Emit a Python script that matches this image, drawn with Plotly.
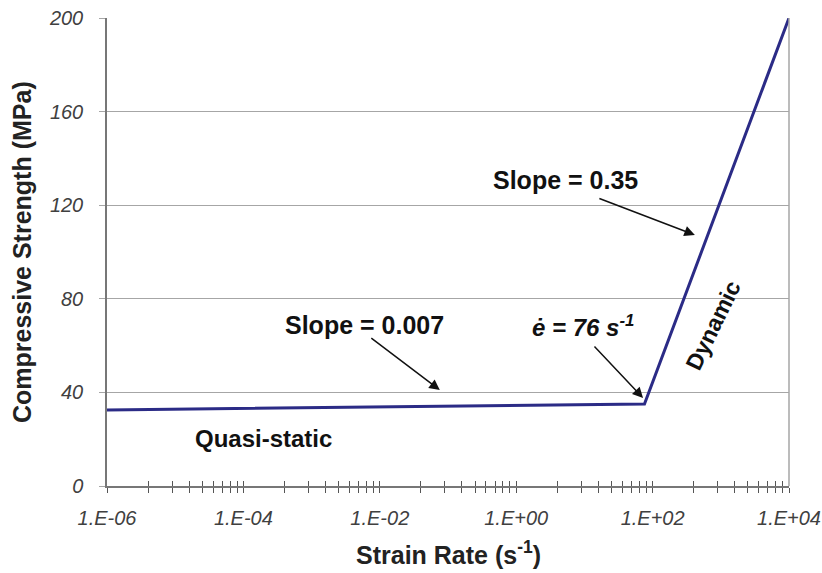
import numpy as np
import plotly.graph_objects as go

# Data
strain_rate = [1e-6, 76, 1e4]
strength = [32.5, 35.0, 200.0]

x_major_vals = [1e-6, 1e-4, 1e-2, 1e0, 1e2, 1e4]
x_major_text = ["1.E-06", "1.E-04", "1.E-02", "1.E+00", "1.E+02", "1.E+04"]
y_ticks = [0, 40, 80, 120, 160, 200]

# Excel-style minor ticks (log base 100 major unit)
minor_vals = []
for base in x_major_vals[:-1]:
    for k in range(2, 10):
        minor_vals.append(base * k * k)

FONT = "Arial, Liberation Sans, sans-serif"
LINE = "#2b2b86"
GRID = "#a6a6a6"

fig = go.Figure()
fig.add_trace(go.Scatter(x=strain_rate, y=strength, mode="lines",
                         line=dict(color=LINE, width=3), showlegend=False,
                         hoverinfo="skip"))
# invisible trace to activate the overlay axis (inner half of crossing ticks)
fig.add_trace(go.Scatter(x=[1e-6, 1e4], y=[0, 200], xaxis="x2", mode="markers",
                         marker=dict(opacity=0), showlegend=False, hoverinfo="skip"))

xrange = [np.log10(1e-6), np.log10(1e4)]
fig.update_layout(
    width=822, height=573,
    margin=dict(l=107, r=33, t=18, b=87),
    paper_bgcolor="white", plot_bgcolor="white",
    font=dict(family=FONT, color="#222222"),
    xaxis=dict(type="log", range=xrange, tickvals=x_major_vals, ticktext=x_major_text,
               automargin=False,
               ticks="outside", ticklen=5, tickcolor="#555555", tickwidth=1,
               showline=True, linecolor="#777777", linewidth=1.5,
               showgrid=False, zeroline=False,
               tickfont=dict(size=20, style="italic", color="#404040"),
               ticklabelstandoff=8,
               minor=dict(tickvals=minor_vals, ticks="outside", ticklen=5,
                          tickcolor="#555555", showgrid=False)),
    xaxis2=dict(type="log", range=xrange, overlaying="x", side="bottom",
                automargin=False,
                tickvals=x_major_vals, ticktext=[""] * 6, showticklabels=False,
                ticks="inside", ticklen=5, tickcolor="#555555", showgrid=False,
                zeroline=False, showline=False,
                minor=dict(tickvals=minor_vals, ticks="inside", ticklen=5,
                           tickcolor="#555555", showgrid=False)),
    yaxis=dict(range=[0, 200], tickvals=y_ticks, ticks="outside", ticklen=6,
               automargin=False,
               tickcolor=GRID, showline=True, linecolor="#777777", linewidth=1.5,
               showgrid=True, gridcolor=GRID, gridwidth=1.2, zeroline=False,
               mirror=False,
               tickfont=dict(size=20, style="italic", color="#404040"),
               ticklabelstandoff=12),
)

# axis titles
fig.add_annotation(xref="paper", yref="paper", x=0.5, y=-0.1432,
                   xanchor="center", yanchor="middle",
                   text="<b>Strain Rate (s<sup>-1</sup>)</b>", showarrow=False,
                   font=dict(family=FONT, size=25, color="#222222"))
fig.add_annotation(xref="paper", yref="paper", x=-0.1246, y=0.5, textangle=-90,
                   xanchor="center", yanchor="middle",
                   text="<b>Compressive Strength (MPa)</b>", showarrow=False,
                   font=dict(family=FONT, size=25, color="#222222"))

# right border of plot area
fig.add_shape(type="line", xref="paper", yref="paper", x0=1, x1=1, y0=0, y1=1,
              line=dict(color=GRID, width=1.5))

ann_font = dict(family=FONT, size=25, color="#111111")

def arrow(xlog, y, ax, ay):
    fig.add_annotation(x=xlog, y=y, ax=ax, ay=ay, text="", showarrow=True,
                       arrowhead=2, arrowsize=1.4, arrowwidth=1.5, arrowcolor="#111111")

arrow(2.62, 107.3, -97, -37)
arrow(-1.12, 41.0, -70, -53)
arrow(1.86, 37.6, -50, -53)

fig.add_annotation(x=0.716, y=130.8, text="<b>Slope = 0.35</b>", showarrow=False, font=ann_font)
fig.add_annotation(x=-2.22, y=68.8, text="<b>Slope = 0.007</b>", showarrow=False, font=ann_font)
fig.add_annotation(x=0.98, y=68.4, text="<b><i>ė = 76 s<sup>-1</sup></i></b>", showarrow=False,
                   font=dict(family=FONT, size=24, color="#111111"))
fig.add_annotation(x=2.89, y=68.8, text="<b>Dynamic</b>", showarrow=False, textangle=-64,
                   font=dict(family=FONT, size=23, color="#111111"))
fig.add_annotation(x=-3.71, y=20.5, text="<b>Quasi-static</b>", showarrow=False,
                   font=dict(family=FONT, size=24, color="#111111"))

fig.write_html("out.html")
